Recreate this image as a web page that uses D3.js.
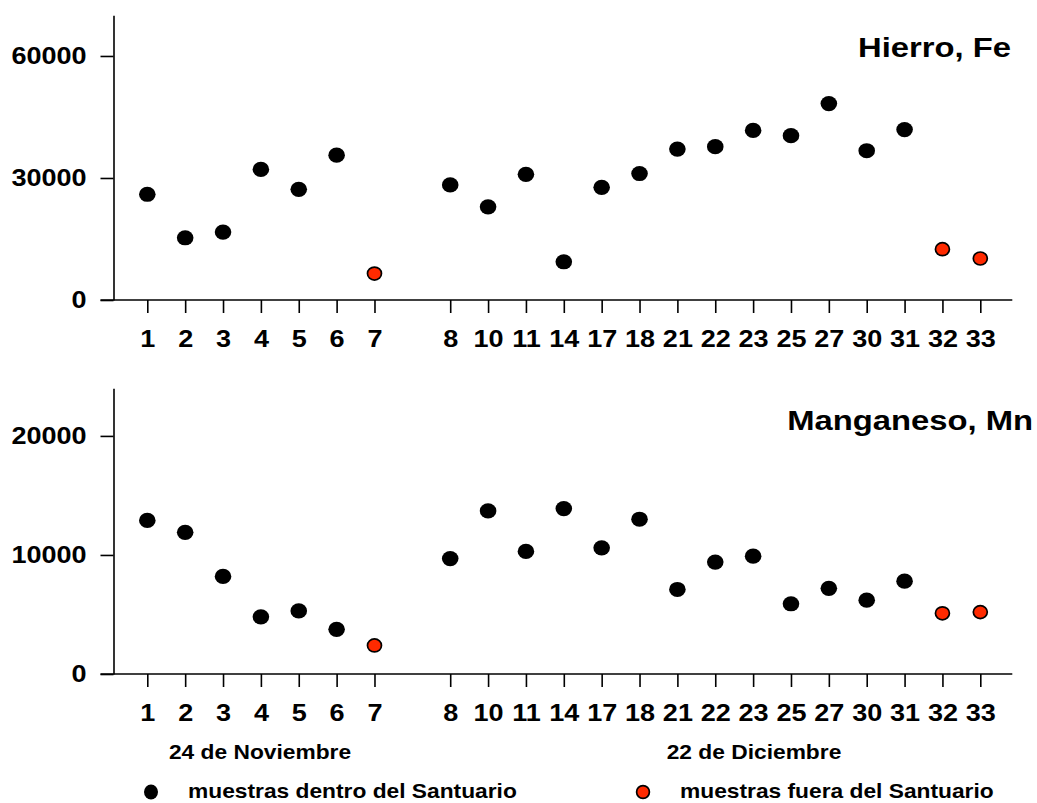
<!DOCTYPE html>
<html>
<head>
<meta charset="utf-8">
<script src="https://cdnjs.cloudflare.com/ajax/libs/d3/7.8.5/d3.min.js"></script>
<style>
body { margin: 0; background: #fff; }
svg text { font-family: "Liberation Sans", Arial, sans-serif; font-weight: bold; fill: #000; }
</style>
</head>
<body>
<svg id="chart" width="1037" height="803"></svg>
<script>
// sample numbers along the x axis
var samples = ["1", "2", "3", "4", "5", "6", "7", "8", "10", "11", "14", "17", "18", "21", "22", "23", "25", "27", "30", "31", "32", "33"];
// samples taken outside the sanctuary (red)
var outside = ["7", "32", "33"];
var hierro = [26000, 15300, 16700, 32100, 27200, 35600, 6500, 28300, 22900, 30900, 9400, 27700, 31100, 37100, 37700, 41700, 40400, 48300, 36700, 41900, 12500, 10200];
var manganeso = [12900, 11900, 8200, 4800, 5300, 3750, 2400, 9700, 13700, 10300, 13900, 10600, 13000, 7100, 9400, 9900, 5900, 7200, 6200, 7800, 5100, 5200];
var hierroTicks = [0, 30000, 60000];
var manganesoTicks = [0, 10000, 20000];
var dateLabels = ["24 de Noviembre", "22 de Diciembre"];
var legendLabels = ["muestras dentro del Santuario", "muestras fuera del Santuario"];

var stretch = 1.15; // the picture is a bit wider than tall
var red = "#ff2a00";
var axisX = 113.5;

var svg = d3.select("#chart");

// empty slot between the two sampling days
var slots = samples.slice(0, 7).concat(["_gap"], samples.slice(7));
var x = d3.scalePoint().domain(slots).range([147.3, 980.3]);

function isOut(i) {
    return outside.indexOf(samples[i]) >= 0;
}

function drawPanel(values, ticks, maxY, top, bottom, title, titleX, titleY) {
    var y = d3.scaleLinear().domain([0, maxY]).range([bottom, top]);
    var g = svg.append("g");

    // y axis
    var yAxis = g.append("g").attr("transform", "translate(" + axisX + ",0)")
        .call(d3.axisLeft(y).tickValues(ticks).tickSize(13).tickSizeOuter(0).tickPadding(14).tickFormat(d3.format("d")));
    yAxis.selectAll("text").attr("x", -27 / stretch).attr("transform", "scale(" + stretch + ",1)").style("font-size", "23.5px");

    // x axis
    var xAxis = g.append("g").attr("transform", "translate(0," + bottom + ")")
        .call(d3.axisBottom(x).tickValues(samples).tickSize(13).tickSizeOuter(0).tickPadding(17));
    xAxis.select(".domain").remove();
    xAxis.selectAll("text").attr("transform", "scale(" + stretch + ",1)").style("font-size", "23.5px");
    g.append("line").attr("x1", axisX - 13).attr("x2", x.range()[1] + 32)
        .attr("y1", bottom).attr("y2", bottom).attr("stroke", "#000");

    g.selectAll("path, line").attr("stroke-width", 1.6);

    // points
    g.selectAll("ellipse").data(values).enter().append("ellipse")
        .attr("cx", function(d, i) { return x(samples[i]); })
        .attr("cy", function(d) { return y(d); })
        .attr("rx", function(d, i) { return isOut(i) ? 7 : 8.3; })
        .attr("ry", function(d, i) { return isOut(i) ? 6.5 : 7.6; })
        .attr("fill", function(d, i) { return isOut(i) ? red : "#000"; })
        .attr("stroke", "#000")
        .attr("stroke-width", function(d, i) { return isOut(i) ? 1.7 : 0; });

    g.append("text").attr("text-anchor", "end")
        .attr("transform", "translate(" + titleX + "," + titleY + ") scale(" + stretch + ",1)")
        .style("font-size", "28.5px").text(title);
}

drawPanel(hierro, hierroTicks, 70000, 15.3, 300, "Hierro, Fe", 1011, 57);
drawPanel(manganeso, manganesoTicks, 24000, 388.3, 674, "Manganeso, Mn", 1033, 430);

// sampling dates
var dateX = [260, 754];
svg.selectAll(".date").data(dateLabels).enter().append("text").attr("class", "date")
    .attr("text-anchor", "middle")
    .attr("transform", function(d, i) { return "translate(" + dateX[i] + ",759) scale(" + stretch + ",1)"; })
    .style("font-size", "19.8px").text(function(d) { return d; });

// legend
var legendX = [151, 643];
var legend = svg.selectAll(".legend").data(legendLabels).enter().append("g").attr("class", "legend")
    .attr("transform", function(d, i) { return "translate(" + legendX[i] + ",792)"; });
legend.append("ellipse").attr("rx", function(d, i) { return i ? 6.4 : 7; }).attr("ry", function(d, i) { return i ? 6.4 : 7.5; })
    .attr("fill", function(d, i) { return i ? red : "#000"; })
    .attr("stroke", "#000").attr("stroke-width", function(d, i) { return i ? 1.7 : 0; });
legend.append("text").attr("transform", "translate(37,6) scale(" + stretch + ",1)")
    .style("font-size", "19.8px").text(function(d) { return d; });
</script>
</body>
</html>
